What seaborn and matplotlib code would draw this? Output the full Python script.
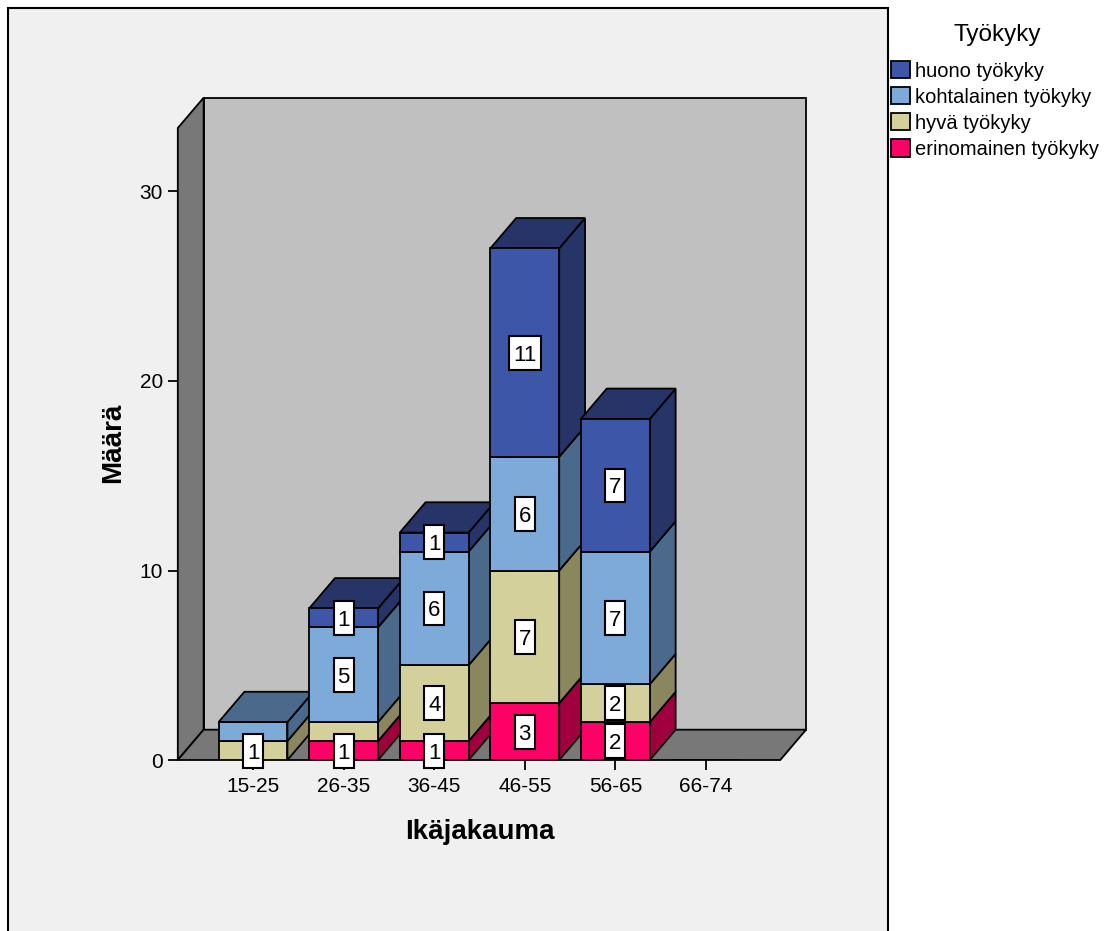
import numpy as np
import matplotlib
matplotlib.use("Agg")
import matplotlib.pyplot as plt
from matplotlib.patches import Polygon, Rectangle, Patch
from matplotlib.path import Path
import seaborn as sns

# Age groups and counts per work-ability class
ages = ["15-25", "26-35", "36-45", "46-55", "56-65", "66-74"]
erinomainen = [0, 1, 1, 3, 2, 0]
hyva = [1, 1, 4, 7, 2, 0]
kohtalainen = [1, 5, 6, 6, 7, 0]
huono = [0, 1, 1, 11, 7, 0]

series_names = ["erinomainen työkyky", "hyvä työkyky",
                "kohtalainen työkyky", "huono työkyky"]
series_values = [erinomainen, hyva, kohtalainen, huono]
y_ticks = [0, 10, 20, 30]

front_colors = ["#FF0066", "#D4D09C", "#7DAAD8", "#3E56A7"]
shade_colors = ["#A0003E", "#8A875E", "#4B6A8B", "#263468"]

# 3D look: depth offset (category units, count units) and wall extents
DX, DY = 0.285, 1.6
XL, XH, YH = -0.83, 5.82, 33.35
BAR_W = 0.76
LW = 1.3

sns.set_theme(style="ticks")
plt.rcParams["font.family"] = ["Liberation Sans", "DejaVu Sans"]
plt.rcParams.update({"text.color": "black", "axes.labelcolor": "black",
                     "xtick.color": "black", "ytick.color": "black"})

fig = plt.figure(figsize=(11.12, 9.31), dpi=100)
fig.patch.set_facecolor("white")

# chart frame
fig.patches.append(Rectangle((8 / 1112, -0.05), 880 / 1112, 1 - 8 / 931 + 0.05,
                             transform=fig.transFigure, facecolor="#F0F0F0",
                             edgecolor="black", linewidth=1.5, zorder=-5))

ax = fig.add_axes([0.1599, 0.18367, 0.5650, 0.7114])
ax.patch.set_visible(False)

# walls and floor
wall_kw = dict(edgecolor="black", linewidth=LW, joinstyle="miter", clip_on=False)
ax.add_patch(Polygon([(XL + DX, DY), (XH + DX, DY), (XH + DX, YH + DY), (XL + DX, YH + DY)],
                     facecolor="#C0C0C0", zorder=1, **wall_kw))
ax.add_patch(Polygon([(XL, 0), (XL + DX, DY), (XL + DX, YH + DY), (XL, YH)],
                     facecolor="#787878", zorder=1.1, **wall_kw))
ax.add_patch(Polygon([(XL, 0), (XH, 0), (XH + DX, DY), (XL + DX, DY)],
                     facecolor="#787878", zorder=1.1, **wall_kw))

# stacked front faces
bottom = np.zeros(len(ages))
for k, vals in enumerate(series_values):
    n0 = len(ax.patches)
    sns.barplot(x=ages, y=vals, bottom=bottom.copy(), color=front_colors[k],
                saturation=1, width=BAR_W, edgecolor="black", linewidth=LW,
                errorbar=None, ax=ax)
    for i, p in enumerate(ax.patches[n0:]):
        p.set_zorder(2 + 0.1 * i + 0.05)
        p.set_joinstyle("miter")
    bottom += np.asarray(vals, dtype=float)

# side and top faces
for i in range(len(ages)):
    xr = i + BAR_W / 2
    xl = i - BAR_W / 2
    base = 0.0
    top_k = None
    for k, vals in enumerate(series_values):
        v = vals[i]
        if v <= 0:
            continue
        t = base + v
        ax.add_patch(Polygon([(xr, base), (xr + DX, base + DY), (xr + DX, t + DY), (xr, t)],
                             facecolor=shade_colors[k], edgecolor="black", linewidth=LW,
                             joinstyle="miter", zorder=2 + 0.1 * i, clip_on=False))
        base = t
        top_k = k
    if top_k is not None:
        ax.add_patch(Polygon([(xl, base), (xl + DX, base + DY), (xr + DX, base + DY), (xr, base)],
                             facecolor=shade_colors[top_k], edgecolor="black", linewidth=LW,
                             joinstyle="miter", zorder=2 + 0.1 * i, clip_on=False))


def label_box(text):
    """Tall rectangular box sized from the digit count, centred on the digits."""
    n = len(text)

    def style(x0, y0, width, height, mutation_size):
        ms = mutation_size
        w = n * 0.556 * ms + 2 * 0.17 * ms
        h = 1.52 * ms
        cx = x0 + width / 2
        cy = y0 + (height + 0.21 * ms) / 2
        xa, xb = cx - w / 2, cx + w / 2
        ya, yb = cy - h / 2, cy + h / 2
        return Path([(xa, ya), (xb, ya), (xb, yb), (xa, yb), (xa, ya)],
                    [Path.MOVETO, Path.LINETO, Path.LINETO, Path.LINETO, Path.CLOSEPOLY])
    return style


# value labels (skip one that would collide with the label below it)
MIN_GAP = 1.8
for i in range(len(ages)):
    base = 0.0
    last = None
    for k, vals in enumerate(series_values):
        v = vals[i]
        if v <= 0:
            continue
        c = base + v / 2
        base += v
        if last is not None and c - last < MIN_GAP:
            continue
        s = str(v)
        ax.text(i, c, s, ha="center", va="center_baseline", fontsize=16, zorder=10,
                bbox=dict(boxstyle=label_box(s), facecolor="white",
                          edgecolor="black", linewidth=1.5))
        last = c

ax.set_xlim(XL, XH + DX)
ax.set_ylim(0, YH + DY)
ax.set_yticks(y_ticks)
ax.set_xticks(range(len(ages)))
ax.set_xticklabels(ages)
ax.set_xlabel("")
ax.set_ylabel("")
for sp in ax.spines.values():
    sp.set_visible(False)
ax.tick_params(axis="both", length=7.2, width=1.3, color="black",
               labelsize=15, labelcolor="black", direction="out")
ax.tick_params(axis="y", pad=3.6)
ax.tick_params(axis="x", pad=5)
ax.grid(False)

fig.text(480 / 1112, 1 - 832 / 931, "Ikäjakauma", ha="center", va="center",
         fontsize=20, fontweight="bold")
fig.text(113 / 1112, 1 - 443 / 931, "Määrä", ha="center", va="center",
         fontsize=20, fontweight="bold", rotation=90)

# legend
fig.text(997 / 1112, 1 - 35 / 931, "Työkyky", ha="center", va="center", fontsize=17.5)
handles = [Patch(facecolor=front_colors[k], edgecolor="black", linewidth=1.3)
           for k in range(3, -1, -1)]
labels = [series_names[k] for k in range(3, -1, -1)]
fig.legend(handles, labels, loc="upper left",
           bbox_to_anchor=(891 / 1112, 1 - 61 / 931), frameon=False,
           fontsize=14.5, handlelength=0.95, handleheight=0.95,
           handletextpad=0.25, labelspacing=0.32, borderpad=0, borderaxespad=0)

fig.savefig("out.png", dpi=100)
